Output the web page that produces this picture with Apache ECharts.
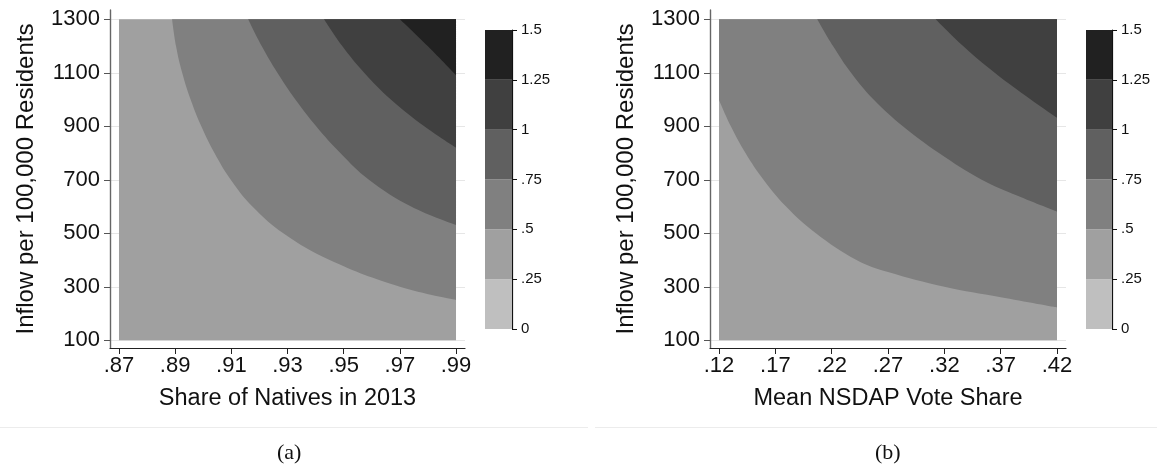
<!DOCTYPE html>
<html>
<head>
<meta charset="utf-8">
<script src="https://cdn.jsdelivr.net/npm/echarts@6.0.0/dist/echarts.min.js"></script>
<style>
  html, body { margin: 0; padding: 0; background: #fff; }
  #chart { width: 1157px; height: 472px; }
</style>
</head>
<body>
<div id="chart"></div>
<script>
// tick labels
var xTicksA = [0.87, 0.89, 0.91, 0.93, 0.95, 0.97, 0.99];
var xTicksB = [0.12, 0.17, 0.22, 0.27, 0.32, 0.37, 0.42];
var yTicks = [100, 300, 500, 700, 900, 1100, 1300];
var levels = [0, 0.25, 0.5, 0.75, 1, 1.25, 1.5];
var levelColors = ['#bfbfbf', '#a0a0a0', '#808080', '#606060', '#404040', '#212121'];

// panel (a): contour boundaries, [share of natives, inflow]
var a_base = [[0.87, 100], [0.99, 100]];
var a_050 = [[0.8889, 1300], [0.8903, 1200], [0.8925, 1100], [0.8955, 1000], [0.8993, 900], [0.904, 800],
             [0.9098, 700], [0.9175, 600], [0.9285, 500], [0.945, 400], [0.97, 300], [0.99, 251]];
var a_075 = [[0.916, 1300], [0.9208, 1200], [0.9264, 1100], [0.9328, 1000], [0.9402, 900], [0.9488, 800],
             [0.959, 700], [0.974, 600], [0.99, 531]];
var a_100 = [[0.943, 1300], [0.9495, 1200], [0.9573, 1100], [0.9668, 1000], [0.9787, 900], [0.99, 820]];
var a_125 = [[0.97, 1300], [0.9799, 1200], [0.99, 1091]];

// panel (b): [mean NSDAP vote share, inflow]
var b_base = [[0.12, 100], [0.42, 100]];
var b_050 = [[0.12, 998], [0.1305, 900], [0.1435, 800], [0.1595, 700], [0.1795, 600], [0.206, 500],
             [0.242, 400], [0.27, 355], [0.32, 300], [0.37, 261], [0.42, 223]];
var b_075 = [[0.2072, 1300], [0.2212, 1200], [0.2372, 1100], [0.2572, 1000], [0.2832, 900], [0.3152, 800],
             [0.3532, 700], [0.385, 640], [0.42, 581]];
var b_100 = [[0.3123, 1300], [0.3367, 1200], [0.3647, 1100], [0.3967, 1000], [0.42, 932]];
var b_125 = [[0.4185, 1300], [0.42, 1294]];

var FONT = 'Liberation Sans, Arial, Helvetica, sans-serif';
var yTop = 1300;

function dec(v) {
  return v.toFixed(2).replace(/^0/, '');
}
function lvl(v) {
  return String(v).replace(/^0\./, '.');
}

function mainX(gi, min, max, ticks, name) {
  return {
    type: 'value', gridIndex: gi, min: min, max: max,
    name: name, nameLocation: 'middle', nameGap: 39,
    nameTextStyle: { fontFamily: FONT, fontSize: 23.5, color: '#111' },
    axisLine: { show: true, onZero: false, lineStyle: { color: '#222', width: 1.2 } },
    axisTick: { show: true, customValues: ticks, length: 6, lineStyle: { color: '#222' } },
    axisLabel: { customValues: ticks, formatter: dec, fontFamily: FONT, fontSize: 22, color: '#111', margin: 7 },
    splitLine: { show: false }
  };
}
function mainY(gi) {
  return {
    type: 'value', gridIndex: gi, min: 71.2, max: 1334.8,
    name: 'Inflow per 100,000 Residents', nameLocation: 'middle', nameGap: 72,
    nameTextStyle: { fontFamily: FONT, fontSize: 24, color: '#111' },
    axisLine: { show: true, lineStyle: { color: '#666', width: 1.4 } },
    axisTick: { show: true, customValues: yTicks, length: 6, lineStyle: { color: '#555' } },
    axisLabel: { customValues: yTicks, formatter: function (v) { return String(v); },
                 fontFamily: FONT, fontSize: 22, color: '#111', margin: 10 },
    splitLine: { show: true, lineStyle: { color: '#e6e6e6', width: 1 } }
  };
}
function barX(gi) {
  return { type: 'category', gridIndex: gi, data: ['c'], show: false };
}
function barY(gi) {
  return {
    type: 'value', gridIndex: gi, min: 0, max: 1.5, position: 'right',
    axisLine: { show: true, lineStyle: { color: '#111', width: 1.2 } },
    axisTick: { show: true, customValues: levels, length: 5, lineStyle: { color: '#111' } },
    axisLabel: { customValues: levels, formatter: lvl, fontFamily: FONT, fontSize: 15, color: '#111', margin: 9 },
    splitLine: { show: false }
  };
}

function contour(data, color, xi) {
  return {
    type: 'line', xAxisIndex: xi, yAxisIndex: xi, data: data,
    symbol: 'none', smooth: 0.4,
    lineStyle: { width: 0 },
    areaStyle: { color: color, opacity: 1, origin: yTop },
    silent: true
  };
}

var series = [];
[[a_base, a_050, a_075, a_100, a_125], [b_base, b_050, b_075, b_100, b_125]].forEach(function (sets, p) {
  sets.forEach(function (d, i) {
    series.push(contour(d, levelColors[i + 1], p));
  });
  levelColors.forEach(function (c, i) {
    series.push({
      type: 'bar', xAxisIndex: p + 2, yAxisIndex: p + 2, stack: 'cb' + p,
      data: [levels[i + 1] - levels[i]], barWidth: '100%',
      itemStyle: { color: c }, silent: true
    });
  });
});

var chart = echarts.init(document.getElementById('chart'));
chart.setOption({
  animation: false,
  backgroundColor: '#fff',
  grid: [
    { left: 110, top: 10, width: 355, height: 338 },
    { left: 710, top: 10, width: 356, height: 338 },
    { left: 485, top: 30, width: 27, height: 299 },
    { left: 1086, top: 30, width: 26, height: 299 }
  ],
  xAxis: [
    mainX(0, 0.8668, 0.9932, xTicksA, 'Share of Natives in 2013'),
    mainX(1, 0.11201, 0.42799, xTicksB, 'Mean NSDAP Vote Share'),
    barX(2), barX(3)
  ],
  yAxis: [mainY(0), mainY(1), barY(2), barY(3)],
  series: series,
  graphic: [
    { type: 'line', shape: { x1: 0, y1: 427.5, x2: 588, y2: 427.5 }, style: { stroke: '#ececec', lineWidth: 1 } },
    { type: 'line', shape: { x1: 595, y1: 427.5, x2: 1157, y2: 427.5 }, style: { stroke: '#ececec', lineWidth: 1 } },
    { type: 'text', left: 277, top: 442, style: { text: '(a)', fontFamily: 'Liberation Serif, Times New Roman, serif', fontSize: 22, fill: '#111' } },
    { type: 'text', left: 875, top: 442, style: { text: '(b)', fontFamily: 'Liberation Serif, Times New Roman, serif', fontSize: 22, fill: '#111' } }
  ]
});
</script>
</body>
</html>
